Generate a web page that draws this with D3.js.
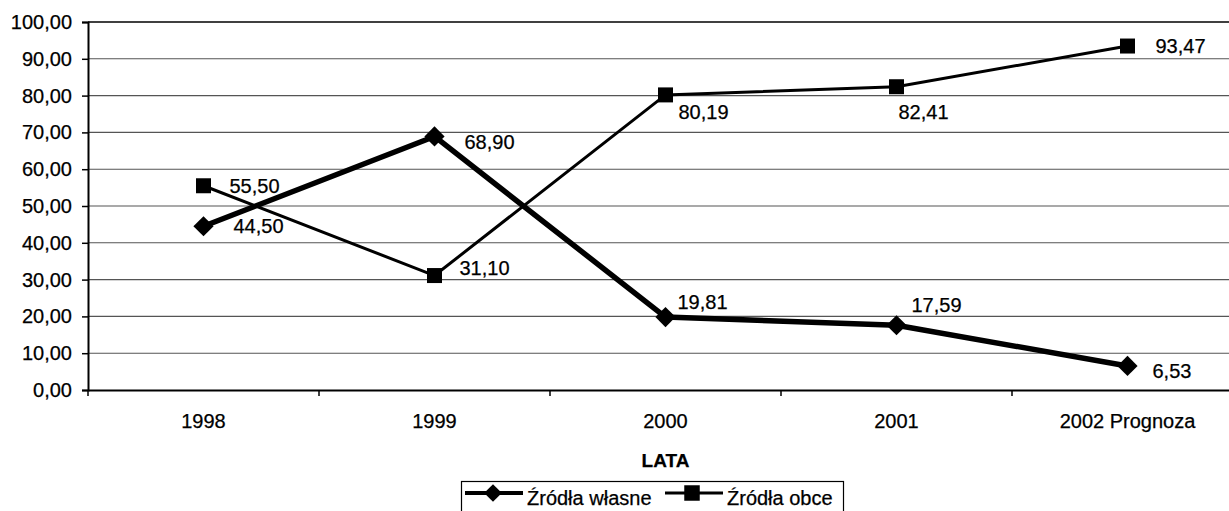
<!DOCTYPE html>
<html>
<head>
<meta charset="utf-8">
<script src="https://cdn.jsdelivr.net/npm/d3@7"></script>
<style>
  body { margin: 0; background: #fff; }
  text { font-family: "Liberation Sans", Arial, sans-serif; fill: #000; stroke: #000; stroke-width: 0.25px; }
</style>
</head>
<body>
<div id="chart"></div>
<script>
const years = ["1998", "1999", "2000", "2001", "2002 Prognoza"]
const wlasne = [44.50, 68.90, 19.81, 17.59, 6.53]
const obce = [55.50, 31.10, 80.19, 82.41, 93.47]
const yTicks = [0, 10, 20, 30, 40, 50, 60, 70, 80, 90, 100]

// label offsets from the marker, as Excel placed them
const wlasneLabelOffset = [[30, 0], [30, 6], [12, -15], [15, -20], [25, 5]]
const obceLabelOffset = [[26, 0], [25, -8], [13, 17], [2, 25], [28, 0]]

let width = 1229, height = 511
let plot = {left: 88, right: 1243, top: 22, bottom: 390}

let svg = d3.select("#chart")
            .append('svg')
            .attr('width', width)
            .attr('height', height)

let x = d3.scaleBand()
          .domain(years)
          .range([plot.left, plot.right])
          .padding(0)

let y = d3.scaleLinear()
          .domain([0, 100])
          .range([plot.bottom, plot.top])

let fmt = function(v) { return d3.format(".2f")(v).replace(".", ",") }

// grid lines
svg.append('g')
   .selectAll('line')
   .data(yTicks.slice(1))
   .enter().append('line')
   .attr('x1', plot.left).attr('x2', plot.right)
   .attr('y1', function(d) { return y(d) })
   .attr('y2', function(d) { return y(d) })
   .attr('stroke', function(d) { return d === 100 ? '#000' : '#555' })
   .attr('stroke-width', function(d) { return d === 100 ? 1.6 : 1.1 })

// y axis
let yAxis = svg.append('g')
               .attr('transform', "translate(" + plot.left + ",0)")
               .call(d3.axisLeft(y)
               .tickValues(yTicks)
               .tickSize(6)
               .tickPadding(10)
               .tickFormat(fmt))
yAxis.select('.domain').attr('stroke-width', 2)
yAxis.selectAll('.tick line').attr('stroke-width', 1.5)
yAxis.selectAll('text').style('font-size', '20px').attr('fill', '#000')

// x axis, ticks between categories
let xAxis = svg.append('g')
               .attr('transform', "translate(0," + plot.bottom + ")")
               .call(d3.axisBottom(x).tickSize(0).tickPadding(24))
xAxis.select('.domain').attr('stroke-width', 2.2)
xAxis.selectAll('text').style('font-size', '20px').attr('fill', '#000')

svg.append('g')
   .selectAll('line')
   .data(years)
   .enter().append('line')
   .attr('x1', function(d) { return x(d) })
   .attr('x2', function(d) { return x(d) })
   .attr('y1', plot.bottom)
   .attr('y2', plot.bottom + 6)
   .attr('stroke', '#000')
   .attr('stroke-width', 1.5)

svg.append('text')
   .attr('x', x("2000") + x.bandwidth() / 2)
   .attr('y', 467)
   .attr('text-anchor', 'middle')
   .style('font-size', '19px')
   .style('font-weight', 'bold')
   .text("LATA")

let cx = function(i) { return x(years[i]) + x.bandwidth() / 2 }

let line = d3.line()
             .x(function(d, i) { return cx(i) })
             .y(function(d) { return y(d) })

svg.append('path')
   .datum(obce)
   .attr('fill', 'none')
   .attr('stroke', '#000')
   .attr('stroke-width', 3)
   .attr('d', line)

svg.append('path')
   .datum(wlasne)
   .attr('fill', 'none')
   .attr('stroke', '#000')
   .attr('stroke-width', 5.5)
   .attr('stroke-linejoin', 'round')
   .attr('d', line)

let diamond = d3.symbol().type(d3.symbolDiamond2).size(260)
let square = d3.symbol().type(d3.symbolSquare).size(225)

svg.append('g')
   .selectAll('path')
   .data(obce)
   .enter().append('path')
   .attr('d', square)
   .attr('transform', function(d, i) { return "translate(" + cx(i) + "," + y(d) + ")" })

svg.append('g')
   .selectAll('path')
   .data(wlasne)
   .enter().append('path')
   .attr('d', diamond)
   .attr('transform', function(d, i) { return "translate(" + cx(i) + "," + y(d) + ")" })

function labels(data, offsets) {
  svg.append('g')
     .selectAll('text')
     .data(data)
     .enter().append('text')
     .attr('x', function(d, i) { return cx(i) + offsets[i][0] })
     .attr('y', function(d, i) { return y(d) + offsets[i][1] })
     .attr('dominant-baseline', 'central')
     .style('font-size', '20px')
     .text(function(d) { return fmt(d) })
}
labels(wlasne, wlasneLabelOffset)
labels(obce, obceLabelOffset)

// legend
let lg = svg.append('g')
lg.append('rect')
  .attr('x', 461.5).attr('y', 481.5)
  .attr('width', 382).attr('height', 40)
  .attr('fill', '#fff')
  .attr('stroke', '#000')
  .attr('stroke-width', 1.2)

lg.append('line')
  .attr('x1', 465).attr('x2', 523).attr('y1', 493).attr('y2', 493)
  .attr('stroke', '#000').attr('stroke-width', 4)
lg.append('path')
  .attr('d', d3.symbol().type(d3.symbolDiamond2).size(200))
  .attr('transform', "translate(493,493)")
lg.append('text')
  .attr('x', 527).attr('y', 505)
  .style('font-size', '20px')
  .text("Źródła własne")

lg.append('line')
  .attr('x1', 665).attr('x2', 723).attr('y1', 493).attr('y2', 493)
  .attr('stroke', '#000').attr('stroke-width', 3)
lg.append('path')
  .attr('d', d3.symbol().type(d3.symbolSquare).size(240))
  .attr('transform', "translate(692,493)")
lg.append('text')
  .attr('x', 727).attr('y', 505)
  .style('font-size', '20px')
  .text("Źródła obce")
</script>
</body>
</html>
